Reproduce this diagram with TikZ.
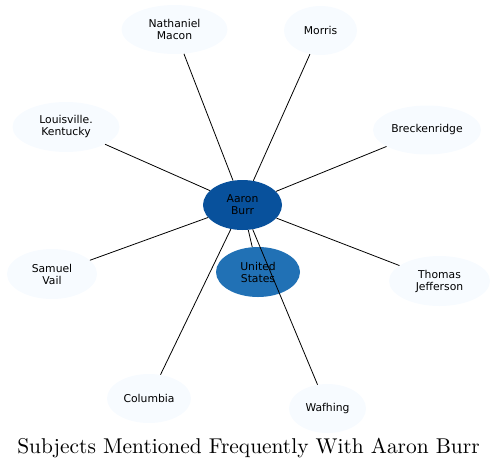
\documentclass[tikz,border=0pt]{standalone}
\usepackage{fontspec}
\newfontfamily\nodefont{DejaVu Sans}
\usetikzlibrary{shapes.geometric}
\definecolor{hub}{HTML}{08519C}
\definecolor{mid}{HTML}{2171B5}
\definecolor{pale}{HTML}{F7FBFF}
\tikzset{
  subj/.style={ellipse, draw=none, fill=pale, inner sep=0pt, align=center,
    font=\nodefont\fontsize{10.8}{12}\selectfont, text=black},
  link/.style={draw=black, line width=0.8pt}
}
\begin{document}
\begin{tikzpicture}[x=1pt,y=-1pt]
\useasboundingbox (0,0) rectangle (497,469);
\node[subj, fill=hub, minimum width=79pt, minimum height=50pt] (burr) at (242.5,205) {Aaron\\Burr};
\node[subj, fill=mid, minimum width=84pt, minimum height=50pt] (us) at (258,272) {United\\States};
\node[subj, minimum width=106pt, minimum height=49pt] (macon) at (174.5,29.5) {Nathaniel\\Macon};
\node[subj, minimum width=107pt, minimum height=50pt] (louis) at (66,127) {Louisville.\\Kentucky};
\node[subj, minimum width=73pt, minimum height=49pt] (morris) at (320.5,30.5) {Morris};
\node[subj, minimum width=108pt, minimum height=49pt] (breck) at (427,130) {Breckenridge};
\node[subj, minimum width=90pt, minimum height=50pt] (vail) at (52,274) {Samuel\\Vail};
\node[subj, minimum width=101pt, minimum height=50pt] (jeff) at (439.5,281) {Thomas\\Jefferson};
\node[subj, minimum width=84pt, minimum height=49pt] (col) at (149,398.5) {Columbia};
\node[subj, minimum width=77pt, minimum height=49pt] (waf) at (327.5,408.5) {Wafhing};
\draw[link] (burr) -- (macon);
\draw[link] (burr) -- (louis);
\draw[link] (burr) -- (morris);
\draw[link] (burr) -- (breck);
\draw[link] (burr) -- (vail);
\draw[link] (burr) -- (jeff);
\draw[link] (burr) -- (col);
\draw[link] (burr) -- (us);
\draw[link] (burr) -- (waf);
\node[font=\fontsize{10}{12}\selectfont, scale=2.14, anchor=base] (title) at (248.5,453) {Subjects Mentioned Frequently With Aaron Burr};
\end{tikzpicture}
\end{document}
